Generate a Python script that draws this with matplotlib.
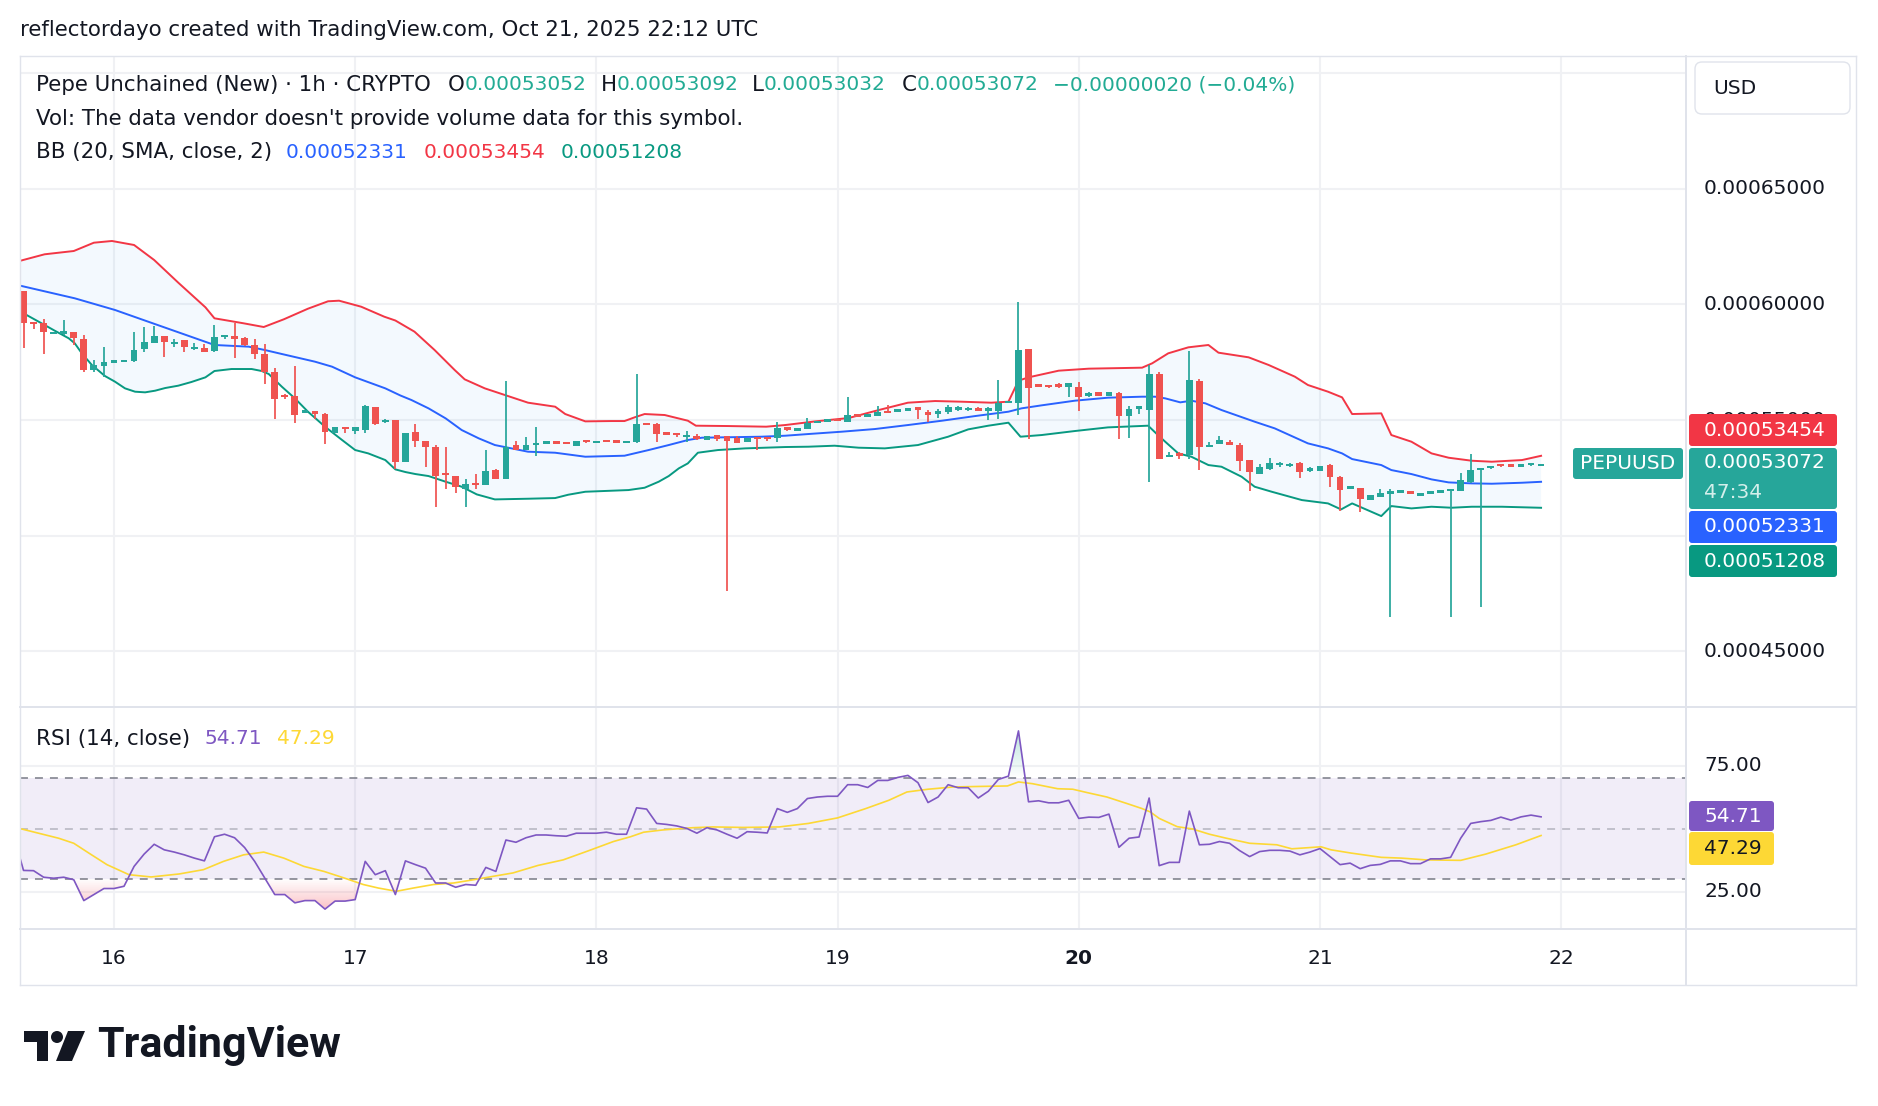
import numpy as np
import matplotlib
matplotlib.use("Agg")
import matplotlib.pyplot as plt
from matplotlib.colors import to_rgb
from matplotlib.lines import Line2D
from matplotlib.patches import FancyBboxPatch, Circle, Polygon, PathPatch
from matplotlib.path import Path
from matplotlib.transforms import IdentityTransform, blended_transform_factory

plt.rcParams['font.family'] = ['DejaVu Sans']

W, H = 1878, 1106

# hours are counted from Oct 16 00:00 UTC; prices in units of 1e-8 USD
FIRST_HOUR = -9
OPEN = [60576, 59222, 59178, 58750, 58746, 58789, 58487, 57161, 57348, 57510,
        57540, 57564, 58083, 58343, 58616, 58320, 58443, 58100, 58112, 57982,
        58620, 58616, 58544, 58227, 57853, 57075, 56050, 56037, 55350, 55360,
        55259, 54452, 54682, 54510, 54567, 55561, 54950, 54985, 53198, 54466,
        54106, 53818, 52694, 52564, 52031, 52262, 52204, 52838, 52463, 53919,
        53688, 53950, 54005, 54030, 54020, 53890, 54100, 54040, 54100, 54090,
        54050, 54048, 54840, 54827, 54430, 54423, 54300, 54279, 54120, 54351,
        54322, 54207, 54048, 54236, 54240, 54207, 54682, 54590, 54625, 54900,
        54960, 55000, 54927, 55210, 55180, 55172, 55374, 55405, 55450, 55518,
        55360, 55320, 55360, 55480, 55470, 55470, 55403, 55374, 55765, 55749,
        58054, 56527, 56512, 56541, 56412, 56412, 56100, 56196, 56051, 56167,
        55187, 55530, 55446, 57002, 53386, 53558, 53486, 56685, 53818, 53976,
        54048, 53933, 53256, 52651, 52896, 53090, 53045, 53155, 52860, 52809,
        53054, 52535, 52065, 52045, 51556, 51656, 51800, 51890, 51901, 51780,
        51850, 51910, 51960, 51916, 52334, 52824, 52960, 53083, 53054, 53030,
        53069, 53052]
HIGH = [60576, 59222, 59351, 58790, 59322, 58789, 58660, 57593, 58141, 57550,
        57600, 58804, 59005, 59078, 58616, 58487, 58443, 58340, 58285, 59106,
        58640, 59178, 58573, 58487, 58285, 57233, 56123, 57334, 55380, 55360,
        55288, 54682, 54682, 54682, 55662, 55561, 55043, 54985, 54423, 54812,
        54106, 53919, 53818, 52600, 52435, 52665, 53703, 52867, 56685, 54092,
        54279, 54697, 54040, 54040, 54060, 54106, 54110, 54070, 54110, 54100,
        54075, 56988, 54850, 54855, 54440, 54423, 54524, 54394, 54308, 54351,
        54322, 54308, 54207, 54236, 54250, 54913, 54682, 54668, 55086, 54930,
        54990, 55010, 55994, 55210, 55210, 55605, 55648, 55440, 55480, 55518,
        55417, 55461, 55634, 55605, 55580, 55550, 55576, 56729, 55800, 60101,
        58054, 56540, 56520, 56613, 56613, 56628, 56196, 56196, 56196, 56196,
        55605, 55560, 57363, 57060, 53602, 53616, 57997, 56786, 54034, 54322,
        54149, 54005, 53256, 53083, 53357, 53184, 53155, 53184, 52982, 53025,
        53097, 52579, 52118, 52045, 51743, 52017, 52017, 51920, 51945, 51800,
        51870, 51930, 52017, 52708, 53530, 52939, 52990, 53083, 53060, 53050,
        53126, 53092]
LOW = [58126, 58919, 57838, 58730, 58674, 58242, 57089, 57089, 56844, 57490,
       57520, 57492, 57954, 58343, 57737, 58170, 57954, 58026, 57940, 57954,
       58516, 57694, 58213, 57651, 56570, 55057, 55922, 54884, 55340, 55057,
       53976, 54452, 54438, 54409, 54438, 54798, 54855, 52867, 53198, 53847,
       52982, 51253, 52031, 51858, 51253, 52031, 52204, 52463, 52463, 53688,
       53688, 53458, 53990, 54000, 53970, 53890, 54020, 54030, 54080, 54000,
       54040, 54020, 54810, 54048, 54400, 54250, 54048, 54135, 54120, 54106,
       47622, 54020, 54048, 53688, 54106, 54048, 54524, 54524, 54625, 54890,
       54950, 54980, 54927, 55144, 55170, 55172, 55316, 55345, 55440, 55057,
       54927, 55100, 55244, 55374, 55380, 55380, 55014, 55057, 55750, 55230,
       54178, 56440, 56400, 56397, 55994, 55389, 56008, 56051, 56051, 54193,
       54236, 55273, 52334, 53314, 53386, 53299, 53299, 52852, 53818, 53976,
       53904, 52780, 51945, 52651, 52824, 52982, 52953, 52507, 52737, 52809,
       52089, 51080, 52002, 51037, 51556, 51656, 46469, 51880, 51844, 51770,
       51840, 51900, 46469, 51916, 52262, 46930, 52882, 52953, 53000, 52982,
       53010, 53032]
CLOSE = [59178, 59150, 58789, 58770, 58804, 58559, 57161, 57377, 57507, 57530,
         57555, 58011, 58357, 58631, 58386, 58335, 58170, 58115, 57954, 58573,
         58640, 58530, 58242, 57867, 57089, 55922, 56020, 55230, 55365, 55288,
         54495, 54682, 54610, 54682, 55619, 54841, 54965, 53169, 54423, 54106,
         53847, 52593, 52651, 52117, 52218, 52190, 52780, 52463, 53832, 53688,
         53919, 53990, 54030, 54010, 54000, 54106, 54080, 54060, 54085, 54070,
         54065, 54827, 54820, 54409, 54410, 54365, 54320, 54207, 54308, 54164,
         54106, 54020, 54207, 54207, 54220, 54639, 54596, 54610, 54884, 54920,
         54980, 54985, 55201, 55190, 55195, 55345, 55316, 55425, 55470, 55461,
         55201, 55340, 55576, 55500, 55485, 55455, 55533, 55720, 55785, 58026,
         56397, 56455, 56412, 56441, 56585, 56008, 56120, 56051, 56196, 55187,
         55461, 55547, 56988, 53314, 53486, 53486, 56729, 53818, 53933, 54135,
         53904, 53241, 52737, 52968, 53126, 53105, 53060, 52737, 52875, 53025,
         52521, 51959, 52085, 51599, 51743, 51829, 51945, 51910, 51844, 51795,
         51865, 51925, 51980, 52391, 52838, 52939, 52975, 53025, 53010, 53045,
         53126, 53072]

# Bollinger bands (hour, value)
UB_H = [-9.3, -6.9, -4.0, -2.0, -0.2, 2.0, 4.0, 6.4, 9.1, 10.0, 12.9, 14.9, 16.9, 19.3, 21.3,
        22.4, 24.6, 26.9, 28.0, 29.9, 31.9, 33.9, 34.9, 36.9, 38.9, 41.2, 43.9, 44.9, 46.9,
        49.5, 50.8, 51.8, 52.8, 54.8, 57.1, 57.9, 61.1, 64.9, 66.8, 69.8, 73.1, 76.1, 79.0,
        81.7, 84.3, 87.3, 89.0, 90.0, 91.0, 94.0, 97.0, 100.6, 102.3, 103.3, 104.9, 106.9,
        108.9, 109.9, 112.9, 114.9, 117.5, 118.8, 120.8, 122.2, 123.2, 126.1, 127.1, 129.1,
        131.1, 132.8, 135.1, 137.1, 140.1, 142.0]
UB = [61884, 62161, 62303, 62662, 62736, 62563, 61914, 60934, 59870, 59395, 59179, 59019,
      59352, 59810, 60130, 60156, 59896, 59464, 59300, 58818, 58026, 57161, 56757, 56368,
      56080, 55749, 55576, 55259, 54942, 54956, 54956, 55115, 55259, 55216, 54971, 54755,
      54740, 54712, 54784, 54942, 55086, 55432, 55749, 55821, 55792, 55749, 55792, 56700,
      56844, 57132, 57219, 57248, 57262, 57449, 57882, 58141, 58242, 57910, 57709, 57377,
      56873, 56513, 56224, 55979, 55259, 55288, 54351, 54063, 53558, 53371, 53241, 53198,
      53270, 53454]
MB_H = [-9.35, -7.2, -3.9, 0.1, 3.4, 6.7, 10.0, 13.4, 15.0, 16.7, 20.0, 21.7, 24.0, 27.0,
        28.5, 29.6, 31.3, 33.0, 34.6, 36.3, 37.9, 41.2, 43.9, 46.9, 50.8, 53.2, 55.2, 57.1,
        58.5, 64.4, 66.8, 69.1, 72.4, 75.7, 79.0, 82.4, 85.7, 89.0, 90.3, 92.3, 95.6, 98.9,
        102.3, 103.6, 104.6, 106.1, 107.2, 108.6, 110.2, 113.5, 115.5, 118.8, 120.8, 122.2,
        123.2, 126.1, 127.1, 129.1, 131.1, 132.8, 135.1, 137.1, 140.1, 142.0]
MB = [60807, 60591, 60259, 59755, 59250, 58746, 58242, 58170, 58026, 57853, 57521, 57305,
      56844, 56368, 56060, 55864, 55504, 55072, 54567, 54207, 53919, 53631, 53587, 53414,
      53458, 53703, 53919, 54135, 54236, 54279, 54322, 54395, 54495, 54610, 54783, 54971,
      55172, 55360, 55504, 55634, 55835, 55965, 56008, 56008, 55936, 55763, 55835, 55720,
      55432, 54928, 54639, 53991, 53775, 53558, 53313, 53054, 52838, 52665, 52435, 52305,
      52262, 52247, 52290, 52331]
LB_H = [-9.35, -8.7, -7.2, -5.9, -4.5, -3.9, -3.2, -2.2, -0.9, 0.1, 1.1, 2.1, 3.1, 4.1, 5.1,
        6.4, 7.7, 9.1, 10.0, 11.7, 13.7, 14.7, 15.4, 16.7, 18.0, 19.3, 21.0, 22.7, 24.0, 25.3,
        27.0, 28.0, 29.0, 30.0, 31.3, 33.0, 34.6, 36.1, 37.9, 41.2, 43.9, 45.2, 46.9, 51.2,
        52.8, 54.2, 55.2, 56.2, 57.1, 58.1, 60.1, 62.8, 66.8, 69.1, 71.7, 74.1, 76.7, 80.0,
        83.0, 85.0, 87.0, 89.0, 90.2, 92.3, 95.6, 98.9, 102.9, 103.7, 104.6, 105.9, 107.2,
        108.9, 110.2, 112.2, 113.5, 115.2, 118.2, 120.8, 122.1, 123.2, 126.1, 127.1, 129.1,
        131.1, 133.1, 135.1, 138.1, 142.0]
LB = [59800, 59539, 59178, 58861, 58530, 58314, 57882, 57377, 56902, 56657, 56368, 56224,
      56196, 56268, 56383, 56484, 56642, 56844, 57118, 57204, 57204, 57118, 56988, 56441,
      55936, 55360, 54711, 54135, 53703, 53558, 53270, 52867, 52752, 52665, 52579, 52334,
      52118, 51786, 51570, 51599, 51628, 51772, 51901, 51974, 52074, 52334, 52579, 52910,
      53126, 53587, 53703, 53775, 53833, 53847, 53890, 53804, 53775, 53919, 54279, 54596,
      54755, 54884, 54279, 54351, 54524, 54682, 54755, 54423, 54063, 53558, 53414, 53054,
      52982, 52550, 52118, 51901, 51541, 51397, 51137, 51397, 50849, 51282, 51181, 51253,
      51210, 51253, 51253, 51208]

# RSI(14), one value per hour starting at hour -10
RSI_FIRST = -10
RSI = [47.5, 33.4, 33.3, 30.7, 30.3, 30.7, 29.7, 21.4, 23.8, 26.2,
       26.2, 27.1, 35.0, 39.9, 43.8, 41.6, 40.7, 39.6, 38.3, 37.2,
       46.8, 47.8, 46.4, 42.5, 37.0, 30.4, 23.8, 23.8, 20.5, 21.4,
       21.4, 18.0, 21.2, 21.2, 21.8, 37.0, 31.7, 33.3, 23.8, 37.2,
       35.7, 34.3, 28.4, 28.4, 26.7, 27.8, 27.5, 34.6, 33.0, 45.5,
       44.6, 46.4, 47.5, 47.5, 47.2, 47.0, 48.2, 48.2, 48.2, 48.6,
       47.8, 47.8, 58.3, 57.8, 52.1, 51.7, 51.1, 50.1, 48.2, 50.4,
       49.5, 47.8, 46.2, 48.8, 48.6, 48.3, 58.0, 56.5, 58.0, 62.0,
       62.6, 62.9, 62.9, 67.5, 67.5, 66.4, 69.2, 69.2, 70.4, 71.2,
       68.3, 60.4, 62.6, 67.5, 66.3, 66.3, 62.2, 64.9, 69.6, 70.9,
       88.9, 60.7, 61.1, 60.3, 60.3, 61.3, 54.1, 54.6, 54.5, 55.8,
       42.6, 46.2, 46.7, 62.2, 35.3, 36.6, 36.6, 57.0, 43.6, 43.8,
       44.9, 44.2, 41.3, 38.9, 40.9, 41.4, 41.4, 41.1, 39.6, 40.7,
       42.1, 38.9, 35.7, 36.3, 34.1, 35.4, 35.8, 37.2, 37.2, 36.1,
       36.1, 38.0, 38.0, 38.6, 46.2, 52.1, 52.8, 53.3, 54.6, 53.4,
       54.7, 55.4, 54.71]
MA_H = [-9.4, -7.5, -5.5, -4.0, -2.5, -0.7, 1.5, 3.7, 6.5, 8.9, 10.9, 12.9, 14.9, 16.9, 18.9,
        20.9, 22.9, 24.8, 26.3, 28.1, 29.8, 31.8, 33.8, 35.8, 37.8, 39.7, 42.2, 44.7, 47.2,
        49.7, 51.4, 52.7, 54.6, 57.6, 59.6, 62.6, 66.2, 69.1, 72.0, 74.8, 77.1, 78.9, 81.0,
        83.5, 86.0, 88.9, 90.0, 91.4, 93.9, 95.4, 96.9, 98.8, 100.8, 102.3, 103.1, 104.0,
        105.8, 107.3, 109.0, 110.7, 113.0, 115.7, 117.2, 120.1, 121.1, 123.1, 126.1, 128.1,
        130.5, 134.0, 136.5, 139.5, 142.0]
MA = [50.1, 48.2, 46.2, 44.2, 40.3, 35.7, 31.7, 30.8, 32.0, 33.7, 37.0, 39.6, 40.7, 38.3,
      35.0, 33.0, 30.4, 27.8, 26.4, 25.1, 26.4, 27.8, 28.4, 29.7, 31.1, 32.4, 35.4, 37.6,
      41.2, 44.9, 46.8, 48.6, 49.5, 50.4, 50.7, 50.5, 50.7, 52.1, 54.3, 58.0, 61.3, 64.6,
      65.7, 66.6, 66.8, 67.0, 68.6, 67.9, 65.9, 65.7, 64.3, 62.6, 60.0, 58.0, 56.7, 54.1,
      50.8, 49.9, 47.8, 46.2, 44.2, 43.6, 42.0, 42.8, 41.6, 40.3, 38.6, 38.3, 37.6, 37.4,
      39.9, 43.6, 47.29]

DAY_HOURS = [0, 24, 48, 72, 96, 120, 144]
DAY_LABELS = ['16', '17', '18', '19', '20', '21', '22']
PRICE_LEVELS = [45000, 50000, 55000, 60000, 65000, 70000]
PRICE_LABELS = [45000, 55000, 60000, 65000]   # the rest sit under the value tags

UP, DOWN = '#26a69a', '#ef5350'
TEXT = '#131722'
GRID = '#f0f1f4'
BORDER = '#e0e3eb'
FS = 14.5      # axis labels and legend numbers
FL = 15.4      # header / legend words

fig = plt.figure(figsize=(W / 100, H / 100), dpi=100)
fig.patch.set_facecolor('white')


def fx(x):
    return x / W


def fy(y):
    return 1 - y / H


X0, X1 = -9.35, 156.42
ax = fig.add_axes([fx(20), fy(707), fx(1686) - fx(20), fy(56) - fy(707)])
rax = fig.add_axes([fx(20), fy(929), fx(1686) - fx(20), fy(707) - fy(929)])
for a in (ax, rax):
    a.set_xticks([])
    a.set_yticks([])
    for s in a.spines.values():
        s.set_visible(False)
    for d in DAY_HOURS:
        a.axvline(d, color=GRID, lw=1.5, zorder=0)

# ---- price pane
for lvl in PRICE_LEVELS:
    ax.axhline(lvl, color=GRID, lw=1.5, zorder=0)

ax.fill(np.r_[UB_H, LB_H[::-1]], np.r_[UB, LB[::-1]], color='#2196f3', alpha=0.05, lw=0, zorder=1)
ax.plot(UB_H, UB, color='#f23645', lw=1.4, zorder=2)
ax.plot(MB_H, MB, color='#2962ff', lw=1.4, zorder=2)
ax.plot(LB_H, LB, color='#089981', lw=1.4, zorder=2)

o = np.array(OPEN, float)
c = np.array(CLOSE, float)
hours = np.arange(FIRST_HOUR, FIRST_HOUR + len(o))
cols = np.where(c >= o, UP, DOWN)
ax.vlines(hours, LOW, HIGH, colors=cols, lw=1.25, zorder=4)
body = np.maximum(np.abs(c - o), 110)
ax.bar(hours, body, bottom=(o + c) / 2 - body / 2, width=0.68, color=cols, lw=0, zorder=5)

ax.set_xlim(X0, X1)
ax.set_ylim(42600, 70729)

ptrans = blended_transform_factory(fig.transFigure, ax.transData)
for lvl in PRICE_LABELS:
    ax.text(fx(1704), lvl, f"{lvl * 1e-8:.8f}", transform=ptrans, ha='left', va='center',
            fontsize=FS, color=TEXT, clip_on=False)

# ---- RSI pane
rax.axhline(25, color=GRID, lw=1.5, zorder=0)
rax.axhline(75, color=GRID, lw=1.5, zorder=0)
rax.axhspan(30, 70, color='#7e57c2', alpha=0.1, lw=0, zorder=1)
for lvl, al in ((70, 1.0), (50, 0.5), (30, 1.0)):
    rax.axhline(lvl, color='#787b86', alpha=al, lw=1.1, dashes=(5.2, 4.6), zorder=2)

rsi_h = np.arange(RSI_FIRST, RSI_FIRST + len(RSI))
rsi_v = np.array(RSI)


def grad_fill(level, edge, color, amax, above):
    mask = rsi_v > level if above else rsi_v < level
    coll = rax.fill_between(rsi_h, rsi_v, level, where=mask, interpolate=True, lw=0, facecolor='none')
    paths = coll.get_paths()
    coll.remove()
    if not paths:
        return
    clip = PathPatch(Path.make_compound_path(*paths), transform=rax.transData, fc='none', ec='none')
    lo, hi = (level, edge) if above else (edge, level)
    yy = np.linspace(lo, hi, 200)
    img = np.zeros((200, 1, 4))
    img[..., :3] = to_rgb(color)
    img[:, 0, 3] = np.clip(amax * np.abs(yy - level) / 30, 0, 1)
    im = rax.imshow(img, extent=[X0, X1, lo, hi], origin='lower', aspect='auto',
                    interpolation='bilinear', zorder=2)
    im.set_clip_path(clip)


grad_fill(30, 10.1, '#f23645', 0.75, above=False)
grad_fill(70, 98.4, '#089981', 0.45, above=True)

rax.plot(rsi_h, rsi_v, color='#7e57c2', lw=1.2, zorder=4)
rax.plot(MA_H, MA, color='#fdd835', lw=1.2, zorder=3)
rax.set_xlim(X0, X1)
rax.set_ylim(10.1, 98.41)

rtrans = blended_transform_factory(fig.transFigure, rax.transData)
for lvl in (75, 25):
    rax.text(fx(1704), lvl, f"{lvl:.2f}", transform=rtrans, ha='left', va='center',
             fontsize=FS, color=TEXT, clip_on=False)

ttrans = blended_transform_factory(rax.transData, fig.transFigure)
for d, lab in zip(DAY_HOURS, DAY_LABELS):
    rax.text(d, fy(958), lab, transform=ttrans, ha='center', va='center', fontsize=FS,
             color=TEXT, fontweight='bold' if lab == '20' else 'normal', clip_on=False)

# ---- frame lines
def hline(y, x0, x1, lw=1.3):
    fig.add_artist(Line2D([fx(x0), fx(x1)], [fy(y), fy(y)], color=BORDER, lw=lw, zorder=1))


def vline(x, y0, y1, lw=1.3):
    fig.add_artist(Line2D([fx(x), fx(x)], [fy(y0), fy(y1)], color=BORDER, lw=lw, zorder=1))


hline(56, 20, 1856, 1.0)
hline(985, 20, 1856, 1.0)
hline(707, 20, 1856, 1.4)
hline(929, 20, 1856, 1.4)
vline(20, 56, 985, 1.0)
vline(1856, 56, 985, 1.0)
vline(1686, 56, 985, 1.4)


def px_box(x0, y0, x1, y1, fc, ec='none', r=3):
    fig.add_artist(FancyBboxPatch((x0, H - y1), x1 - x0, y1 - y0,
                                  boxstyle=f"round,pad=0,rounding_size={r}",
                                  transform=IdentityTransform(), fc=fc, ec=ec, lw=1, zorder=5))


def label(x, y, s, color='white', size=FS, ha='left', **kw):
    fig.text(fx(x), fy(y), s, color=color, fontsize=size, ha=ha, va='center', zorder=6, **kw)


px_box(1695, 62, 1850, 114, 'white', BORDER, r=7)
label(1713, 88, 'USD', TEXT)

px_box(1689, 414, 1837, 446, '#f23645')
label(1704, 430, '0.00053454')
px_box(1573, 448, 1683, 479, '#26a69a')
label(1628, 463.5, 'PEPUUSD', ha='center')
px_box(1689, 448, 1837, 509, '#26a69a')
label(1704, 463, '0.00053072')
label(1704, 493, '47:34', color='#d4efeb')
px_box(1689, 511, 1837, 543, '#2962ff')
label(1704, 527, '0.00052331')
px_box(1689, 545, 1837, 577, '#089981')
label(1704, 561, '0.00051208')

px_box(1689, 801, 1774, 831, '#7e57c2')
label(1704, 816, '54.71')
px_box(1689, 832, 1774, 865, '#fdd835')
label(1704, 848.5, '47.29', color=TEXT)

# ---- legends
renderer = fig.canvas.get_renderer()


def runs(x, y, parts):
    for s, col, size in parts:
        t = fig.text(fx(x), fy(y), s, color=col, fontsize=size, ha='left', va='center', zorder=6)
        x += t.get_window_extent(renderer).width


TEAL = '#22ab94'
label(20, 30, 'reflectordayo created with TradingView.com, Oct 21, 2025 22:12 UTC', TEXT, size=FL)
runs(36, 85, [('Pepe Unchained (New) · 1h · CRYPTO', TEXT, FL)])
runs(448, 85, [('O', TEXT, FL), ('0.00053052', TEAL, FS)])
runs(601, 85, [('H', TEXT, FL), ('0.00053092', TEAL, FS)])
runs(752, 85, [('L', TEXT, FL), ('0.00053032', TEAL, FS)])
runs(902, 85, [('C', TEXT, FL), ('0.00053072', TEAL, FS)])
runs(1053, 85, [('−0.00000020 (−0.04%)', TEAL, FS)])
label(36, 119, "Vol: The data vendor doesn't provide volume data for this symbol.", TEXT, size=FL)
label(36, 152, 'BB (20, SMA, close, 2)', TEXT, size=FL)
label(286, 152, '0.00052331', '#2962ff')
label(424, 152, '0.00053454', '#f23645')
label(561, 152, '0.00051208', '#089981')
label(36, 739, 'RSI (14, close)', TEXT, size=FL)
label(204, 739, '54.71', '#7e57c2')
label(277, 739, '47.29', '#fdd835')

# ---- TradingView logo
LOGO = '#131722'


def P(x, y):
    return (x, H - y)


tid = IdentityTransform()
fig.add_artist(Polygon([P(24, 1031), P(48, 1031), P(48, 1061), P(37, 1061), P(37, 1042), P(24, 1042)],
                       closed=True, transform=tid, fc=LOGO, ec='none'))
fig.add_artist(Circle(P(57, 1037), 6, transform=tid, fc=LOGO, ec='none'))
fig.add_artist(Polygon([P(68, 1031), P(85, 1031), P(72, 1061), P(56, 1061)],
                       closed=True, transform=tid, fc=LOGO, ec='none'))
fig.text(fx(97), fy(1046), 'TradingView', fontsize=31, fontweight='bold', family=['Roboto', 'DejaVu Sans'],
         color=LOGO, ha='left', va='center')

fig.savefig('out.png', dpi=100, facecolor='white')
